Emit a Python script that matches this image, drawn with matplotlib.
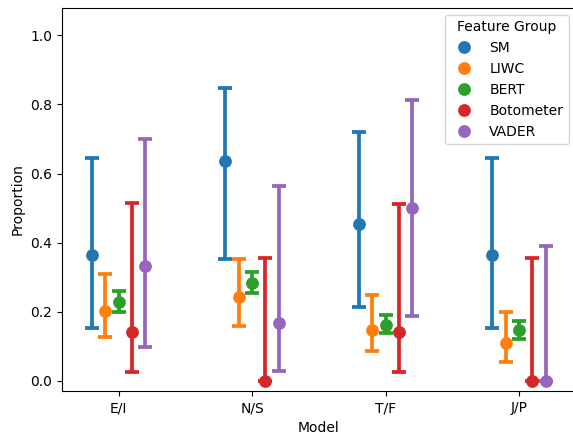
import matplotlib
matplotlib.use("Agg")
import matplotlib.pyplot as plt
import numpy as np

models = ["E/I", "N/S", "T/F", "J/P"]
groups = ["SM", "LIWC", "BERT", "Botometer", "VADER"]
colors = ["#1f77b4", "#ff7f0e", "#2ca02c", "#d62728", "#9467bd"]

# point estimate, lower CI, upper CI per group (order: E/I, N/S, T/F, J/P)
sm_mean = [0.364, 0.636, 0.454, 0.364]
sm_lo = [0.152, 0.354, 0.214, 0.152]
sm_hi = [0.646, 0.847, 0.719, 0.645]

liwc_mean = [0.203, 0.243, 0.148, 0.109]
liwc_lo = [0.126, 0.160, 0.087, 0.056]
liwc_hi = [0.309, 0.353, 0.248, 0.199]

bert_mean = [0.229, 0.283, 0.162, 0.146]
bert_lo = [0.200, 0.254, 0.138, 0.122]
bert_hi = [0.260, 0.316, 0.190, 0.172]

bot_mean = [0.143, 0.0, 0.143, 0.0]
bot_lo = [0.027, 0.0, 0.027, 0.0]
bot_hi = [0.514, 0.355, 0.512, 0.355]

vader_mean = [0.334, 0.167, 0.500, 0.0]
vader_lo = [0.097, 0.030, 0.188, 0.0]
vader_hi = [0.700, 0.564, 0.813, 0.389]

means = [sm_mean, liwc_mean, bert_mean, bot_mean, vader_mean]
lows = [sm_lo, liwc_lo, bert_lo, bot_lo, vader_lo]
highs = [sm_hi, liwc_hi, bert_hi, bot_hi, vader_hi]

W, H = 573, 434
fig = plt.figure(figsize=(W / 100, H / 100), dpi=100)
left, right, top, bottom = 62, 575.7, 7.7, 391.3
ax = fig.add_axes([left / W, 1 - bottom / H, (right - left) / W, (bottom - top) / H])

# dodge the hue levels around each category, like seaborn's pointplot
dodge = 0.4
offsets = np.linspace(0, dodge, len(groups))
offsets -= offsets.mean()
xs = np.arange(len(models))

lw = 2.7
for i, g in enumerate(groups):
    m = np.array(means[i])
    lo = np.array(lows[i])
    hi = np.array(highs[i])
    x = xs + offsets[i]
    ax.errorbar(x, m, yerr=[m - lo, hi - m], fmt="none", ecolor=colors[i],
                elinewidth=lw, capsize=4.8, capthick=lw, zorder=2)
    ax.plot(x, m, "o", color=colors[i], ms=9.2, mec=colors[i], mew=0,
            linestyle="none", label=g, zorder=3)

ax.set_xlim(-0.425, 3.425)
ax.set_ylim(-0.03, 1.08)
ax.set_xticks(xs)
ax.set_xticklabels(models)
ax.set_yticks([0.0, 0.2, 0.4, 0.6, 0.8, 1.0])
ax.set_xlabel("Model")
ax.set_ylabel("Proportion")
ax.legend(title="Feature Group", loc="upper right")

fig.savefig("out.png", dpi=100)
